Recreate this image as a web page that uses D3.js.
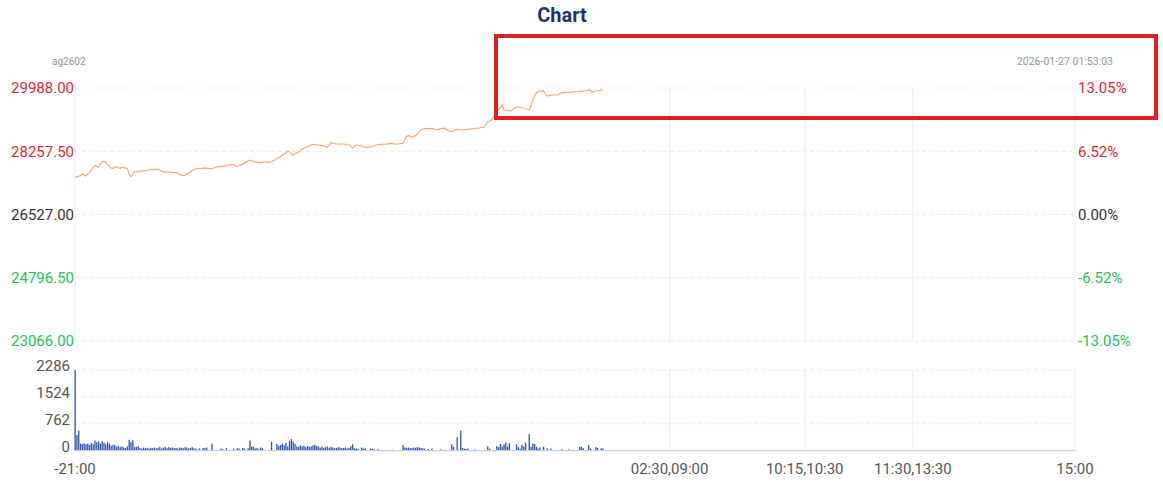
<!DOCTYPE html>
<html><head><meta charset="utf-8">
<script src="https://cdn.jsdelivr.net/npm/d3@7"></script>
<style>body{margin:0;background:#fff;} svg{display:block;font-family:Roboto,"Noto Sans",sans-serif;}</style>
</head><body>
<svg id="c" width="1163" height="495"></svg>
<script>
const symbol = "ag2602";
const stamp = "2026-01-27 01:53:03";
const priceTicks = [29988, 28257.5, 26527, 24796.5, 23066];
const pctLabels = ["13.05%", "6.52%", "0.00%", "-6.52%", "-13.05%"];
const volTicks = [2286, 1524, 762, 0];
const timeTickMinutes = [0, 330, 405, 465, 555];
const timeTickLabels = ["-21:00", "02:30,09:00", "10:15,10:30", "11:30,13:30", "15:00"];
const prices = [
27534,27560,27575,27590,27640,27620,27580,27630,27682,27740,
27810,27862,27850,27818,27900,27972,27980,27965,27900,27862,
27800,27790,27820,27835,27810,27791,27820,27815,27795,27791,
27640,27560,27620,27698,27690,27710,27720,27705,27730,27725,
27727,27745,27750,27764,27755,27770,27760,27745,27720,27700,
27682,27690,27698,27690,27680,27675,27671,27660,27630,27610,
27589,27610,27640,27654,27690,27730,27753,27770,27780,27791,
27785,27800,27795,27800,27790,27785,27780,27800,27820,27830,
27835,27850,27840,27860,27862,27880,27890,27900,27899,27860,
27835,27860,27890,27899,27930,27963,27990,28018,28000,27980,
27972,27960,27950,27945,27960,27972,27965,27955,27955,27980,
28000,28018,28050,28090,28108,28150,28190,28201,28264,28240,
28190,28155,28180,28210,28229,28270,28320,28338,28360,28382,
28400,28430,28448,28440,28435,28429,28420,28410,28410,28380,
28365,28420,28491,28480,28470,28456,28460,28450,28455,28456,
28445,28435,28429,28390,28354,28390,28429,28420,28415,28410,
28390,28370,28354,28370,28382,28395,28410,28429,28435,28440,
28445,28448,28448,28455,28460,28465,28467,28460,28455,28456,
28462,28470,28475,28570,28660,28683,28670,28650,28656,28690,
28721,28780,28840,28866,28880,28885,28880,28870,28885,28870,
28850,28839,28860,28875,28890,28885,28860,28830,28800,28792,
28820,28850,28857,28850,28845,28840,28839,28850,28860,28865,
28866,28875,28880,28885,28885,28900,28910,28913,28990,29066,
29080,29113,29160,29260,29330,29400,29440,29530,29386,29380,
29390,29370,29367,29400,29440,29460,29476,29460,29450,29440,
29433,29410,29386,29480,29660,29770,29851,29890,29914,29910,
29914,29830,29769,29780,29797,29790,29800,29795,29797,29830,
29859,29865,29860,29870,29870,29875,29880,29882,29885,29887,
29890,29895,29900,29914,29920,29930,29933,29860,29900,29906,
29915,29925,29933,29930];
const volumes = [
2286,444,567,200,190,210,180,200,160,220,
180,290,240,260,200,270,230,180,250,200,
140,170,160,110,140,100,120,90,70,120,
310,240,300,110,100,130,80,60,90,70,
80,60,80,70,90,70,80,110,60,90,
110,70,100,80,90,70,80,60,90,80,
70,100,90,60,80,100,70,50,0,60,
0,80,70,90,0,0,200,0,0,0,
0,60,40,0,70,0,0,0,60,0,
70,60,0,80,60,0,70,290,120,110,
60,80,40,90,70,0,0,0,0,250,
0,0,190,140,160,200,150,220,120,270,
330,260,200,120,110,150,120,140,100,130,
110,120,150,170,130,120,90,110,80,100,
120,80,110,90,70,80,100,90,70,80,
90,60,80,130,180,70,60,50,0,90,
60,70,0,0,60,50,40,0,40,0,
0,0,0,0,0,0,30,0,0,0,
0,0,160,90,80,90,70,80,90,85,
100,90,80,70,60,0,50,0,60,0,
0,0,0,40,0,0,0,0,0,180,
110,0,380,0,567,80,60,50,60,0,
0,0,40,0,0,0,0,0,0,120,
60,0,0,0,130,100,190,120,170,230,
120,210,0,0,0,180,100,60,170,120,
230,0,470,110,200,190,110,60,90,0,
110,0,70,0,60,0,0,0,0,0,
40,0,0,0,40,0,0,0,0,0,
100,120,70,0,0,160,60,0,0,100,
80,0,70,60];

const svg = d3.select("#c");
const L = 75, R = 1075;
const x = d3.scaleLinear().domain([0, 555]).range([L, R]);
const y = d3.scaleLinear().domain([23066, 29988]).range([341, 88]);
const yv = d3.scaleLinear().domain([0, 2286]).range([450.7, 370]);
const red = "#e0282e", green = "#1fc05a", dark = "#333";
const colorOf = i => i < 2 ? red : (i === 2 ? dark : green);

// title
svg.append("text").attr("x", 562).attr("y", 22).attr("text-anchor", "middle")
  .attr("font-size", 20).attr("font-weight", "bold").attr("fill", "#1b3566").text("Chart");
svg.append("text").attr("x", 52).attr("y", 65).attr("font-size", 10).attr("fill", "#999").text(symbol);
svg.append("text").attr("x", 1113).attr("y", 65).attr("text-anchor", "end").attr("font-size", 10.5).attr("fill", "#999").text(stamp);

// price grid
svg.append("g").selectAll("line").data(priceTicks).join("line")
  .attr("x1", L).attr("x2", R).attr("y1", d => y(d)).attr("y2", d => y(d))
  .attr("stroke", "#ececec").attr("stroke-dasharray", "4,3");
// volume grid
svg.append("g").selectAll("line").data(volTicks.slice(0, 3)).join("line")
  .attr("x1", L).attr("x2", R).attr("y1", d => yv(d)).attr("y2", d => yv(d))
  .attr("stroke", "#ececec").attr("stroke-dasharray", "4,3");
// vertical grid
const vg = svg.append("g");
vg.selectAll("line.p").data(timeTickMinutes).join("line").attr("class", "p")
  .attr("x1", d => x(d)).attr("x2", d => x(d)).attr("y1", y(29988)).attr("y2", y(23066))
  .attr("stroke", "#eeeeee");
vg.selectAll("line.v").data(timeTickMinutes).join("line").attr("class", "v")
  .attr("x1", d => x(d)).attr("x2", d => x(d)).attr("y1", yv(2286)).attr("y2", yv(0))
  .attr("stroke", "#eeeeee");

// price labels
svg.append("g").selectAll("text").data(priceTicks).join("text")
  .attr("x", 74).attr("y", d => y(d)).attr("dy", "0.35em").attr("text-anchor", "end")
  .attr("font-size", 15).attr("fill", (d, i) => colorOf(i)).text(d => d.toFixed(2));
svg.append("g").selectAll("text").data(pctLabels).join("text")
  .attr("x", 1078).attr("y", (d, i) => y(priceTicks[i])).attr("dy", "0.35em")
  .attr("font-size", 15).attr("fill", (d, i) => colorOf(i)).text(d => d);
// volume labels
svg.append("g").selectAll("text").data(volTicks).join("text")
  .attr("x", 70).attr("y", d => yv(d) - 4).attr("dy", "0.35em").attr("text-anchor", "end")
  .attr("font-size", 15).attr("fill", "#555").text(d => d);
// time labels
svg.append("g").selectAll("text").data(timeTickMinutes).join("text")
  .attr("x", d => x(d)).attr("y", 474).attr("text-anchor", "middle")
  .attr("font-size", 15).attr("fill", "#555").text((d, i) => timeTickLabels[i]);

// volume bars
svg.append("g").selectAll("rect").data(volumes).join("rect")
  .attr("x", (d, i) => x(i) - 0.5).attr("width", 1.3)
  .attr("y", d => yv(d)).attr("height", d => yv(0) - yv(d))
  .attr("fill", "#2f55ad");
svg.append("line").attr("x1", L).attr("x2", R).attr("y1", yv(0)).attr("y2", yv(0))
  .attr("stroke", "#c9cdea").attr("stroke-width", 1.2);

// price line
svg.append("path").datum(prices)
  .attr("d", d3.line().x((d, i) => x(i)).y(d => y(d)))
  .attr("fill", "none").attr("stroke", "#f5a36c").attr("stroke-width", 1.1);

// annotation box
svg.append("rect").attr("x", 496).attr("y", 36).attr("width", 660).attr("height", 82)
  .attr("fill", "none").attr("stroke", "#e0201f").attr("stroke-width", 4);
</script>
</body></html>
